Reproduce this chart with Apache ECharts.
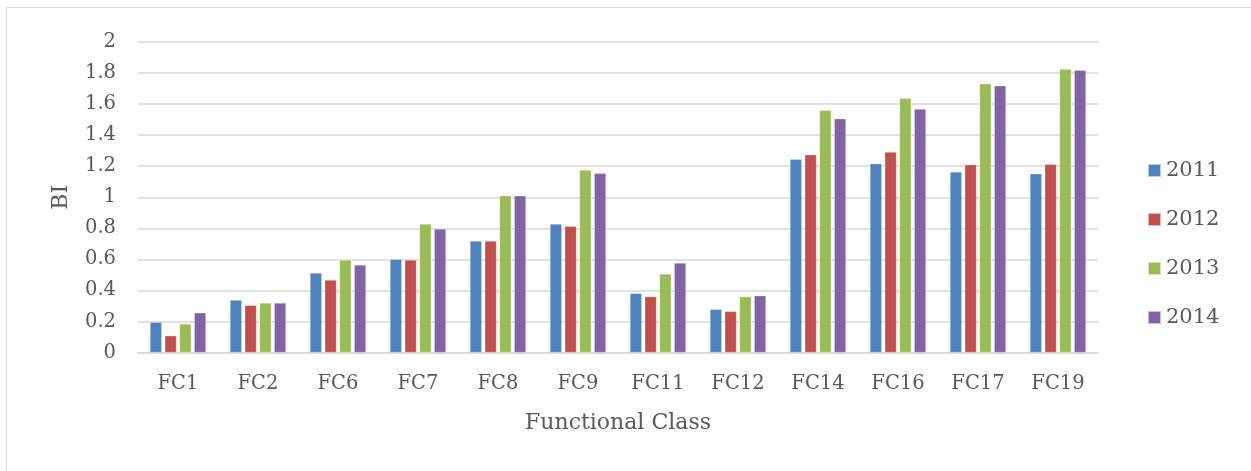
<!DOCTYPE html>
<html><head><meta charset="utf-8">
<script src="https://cdn.jsdelivr.net/npm/echarts@6/dist/echarts.min.js"></script>
<style>html,body{margin:0;padding:0;background:#fff}#c{width:1251px;height:471px}</style>
</head><body><div id="c"></div>
<script>
const categories = ['FC1','FC2','FC6','FC7','FC8','FC9','FC11','FC12','FC14','FC16','FC17','FC19'];
const seriesNames = ['2011','2012','2013','2014'];
const v2011 = [0.195,0.338,0.512,0.600,0.718,0.828,0.381,0.278,1.244,1.216,1.163,1.152];
const v2012 = [0.108,0.304,0.467,0.596,0.718,0.813,0.360,0.265,1.274,1.291,1.210,1.212];
const v2013 = [0.184,0.319,0.596,0.828,1.010,1.175,0.506,0.360,1.560,1.637,1.731,1.826];
const v2014 = [0.256,0.319,0.564,0.795,1.010,1.154,0.577,0.366,1.506,1.568,1.719,1.818];
const colors = ['#4F81BD','#C0504D','#9BBB59','#8064A2'];
const FONT = 'DejaVu Serif';
const TXT = '#595959';
const chart = echarts.init(document.getElementById('c'));
const data = [v2011, v2012, v2013, v2014];
chart.setOption({
  animation: false,
  graphic: [{type:'rect', shape:{x:6.5,y:7.5,width:1260,height:480}, style:{fill:'none',stroke:'#d9d9d9',lineWidth:1}, silent:true}],
  grid: {left:138, right:153, top:42, bottom:118.5},
  legend: {
    orient:'vertical', left:1142, top:155, icon:'rect', itemWidth:13, itemHeight:13, itemGap:28,
    textStyle:{fontFamily:FONT, fontSize:21, color:TXT, lineHeight:21, padding:[0,0,0,0]},
    data: seriesNames
  },
  xAxis: {
    type:'category', data:categories,
    name:'Functional Class', nameLocation:'middle', nameGap:60,
    nameTextStyle:{fontFamily:FONT, fontSize:22, color:TXT},
    axisLine:{lineStyle:{color:'#d9d9d9', width:1.5}},
    axisTick:{show:false},
    axisLabel:{fontFamily:FONT, fontSize:19.5, color:TXT, margin:21}
  },
  yAxis: {
    type:'value', min:0, max:2, interval:0.2,
    name:'BI', nameLocation:'middle', nameGap:66,
    nameTextStyle:{fontFamily:FONT, fontSize:22, color:TXT},
    axisLine:{show:false}, axisTick:{show:false},
    splitLine:{lineStyle:{color:'#d9d9d9', width:1.5}},
    axisLabel:{fontFamily:FONT, fontSize:19.5, color:TXT, margin:22,
      formatter: v => String(Math.round(v*10)/10)}
  },
  series: seriesNames.map((n,i)=>({
    name:n, type:'bar', data:data[i], barGap:'25%', barCategoryGap:'30%',
    itemStyle:{color:colors[i], borderColor:'rgba(255,255,255,0.6)', borderWidth:0.5}
  }))
});
</script></body></html>
